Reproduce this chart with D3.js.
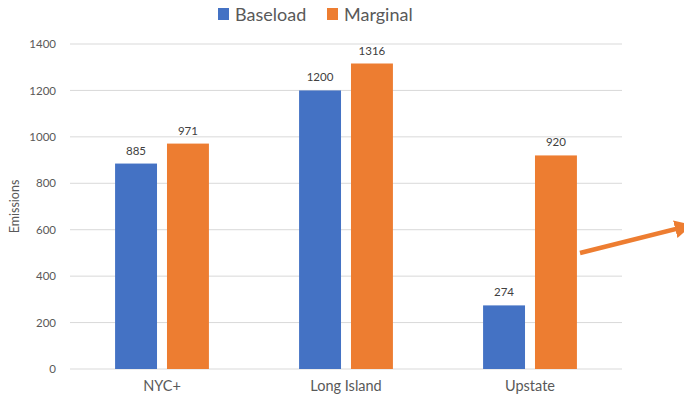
<!DOCTYPE html>
<html><head><meta charset="utf-8">
<script src="https://cdn.jsdelivr.net/npm/d3@7"></script>
<style>body{margin:0;background:#fff}svg{display:block}</style>
</head><body>
<svg id="c" width="684" height="402"></svg>
<script>
const categories = ["NYC+", "Long Island", "Upstate"];
const seriesNames = ["Baseload", "Marginal"];
const baseload = [885, 1200, 274];
const marginal = [971, 1316, 920];
const yTicks = [0, 200, 400, 600, 800, 1000, 1200, 1400];
const colors = ["#4472C4", "#ED7D31"];
const values = [baseload, marginal];

const svg = d3.select("#c");
const font = "Lato, 'Open Sans', sans-serif";
const plotL = 70, plotR = 622, plotT = 44, plotB = 369;

const y = d3.scaleLinear().domain([0, 1400]).range([plotB, plotT]);
const x0 = d3.scaleBand().domain(categories).range([plotL, plotR]).paddingInner(0.49).paddingOuter(0.245);
const x1 = d3.scaleBand().domain(seriesNames).range([0, x0.bandwidth()]).paddingInner(0.192);

// gridlines
svg.append("g").selectAll("line").data(yTicks).join("line")
  .attr("x1", plotL).attr("x2", plotR)
  .attr("y1", d => y(d)).attr("y2", d => y(d))
  .attr("stroke", "#d9d9d9").attr("stroke-width", 1);

// y tick labels
const yAxis = d3.axisLeft(y).tickValues(yTicks).tickFormat(d3.format("d")).tickSize(0).tickPadding(14);
const ga = svg.append("g").attr("transform", `translate(${plotL},0)`).call(yAxis);
ga.select(".domain").remove();
ga.selectAll("text").attr("font-family", font).attr("font-size", 11.5).attr("fill", "#595959");

// x labels
const xAxis = d3.axisBottom(x0).tickSize(0).tickPadding(12);
const gx = svg.append("g").attr("transform", `translate(0,${plotB})`).call(xAxis);
gx.select(".domain").remove();
gx.selectAll("text").attr("font-family", font).attr("font-size", 14.5).attr("fill", "#595959");

// bars
const groups = svg.append("g").selectAll("g").data(categories).join("g")
  .attr("transform", d => `translate(${x0(d)},0)`);
groups.each(function(cat, ci) {
  const g = d3.select(this);
  seriesNames.forEach((s, si) => {
    const v = values[si][ci];
    g.append("rect").attr("x", x1(s)).attr("width", x1.bandwidth())
      .attr("y", y(v)).attr("height", y(0) - y(v)).attr("fill", colors[si]);
    g.append("text").attr("x", x1(s) + x1.bandwidth() / 2).attr("y", y(v) - 9)
      .attr("text-anchor", "middle").attr("font-family", font).attr("font-size", 11.5)
      .attr("fill", "#404040").text(v);
  });
});

// y axis title
svg.append("text").attr("transform", `translate(19,${(plotT + plotB) / 2}) rotate(-90)`)
  .attr("text-anchor", "middle").attr("font-family", font).attr("font-size", 12.5)
  .attr("fill", "#595959").text("Emissions");

// legend
const legend = svg.append("g");
const legendX = [218, 327];
seriesNames.forEach((s, i) => {
  legend.append("rect").attr("x", legendX[i]).attr("y", 8).attr("width", 11).attr("height", 12).attr("fill", colors[i]);
  legend.append("text").attr("x", legendX[i] + 17).attr("y", 21)
    .attr("font-family", font).attr("font-size", 18).attr("fill", "#595959").text(s);
});

// annotation arrow
const defs = svg.append("defs");
defs.append("marker").attr("id", "ah").attr("viewBox", "0 0 10 10").attr("refX", 5).attr("refY", 5)
  .attr("markerWidth", 4).attr("markerHeight", 4).attr("orient", "auto")
  .append("path").attr("d", "M0,0 L10,5 L0,10 z").attr("fill", "#ED7D31");
svg.append("line").attr("x1", 580).attr("y1", 253).attr("x2", 684).attr("y2", 227)
  .attr("stroke", "#ED7D31").attr("stroke-width", 4.5).attr("marker-end", "url(#ah)");
</script>
</body></html>
